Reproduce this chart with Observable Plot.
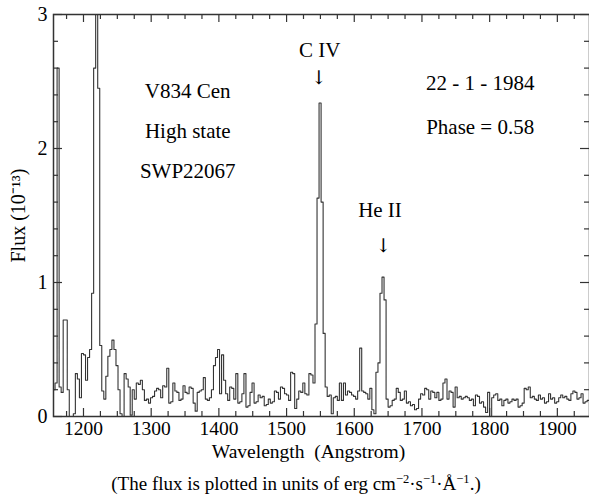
<!DOCTYPE html>
<html><head><meta charset="utf-8">
<script src="https://cdn.jsdelivr.net/npm/d3@7"></script>
<script src="https://cdn.jsdelivr.net/npm/@observablehq/plot@0.6"></script>
<style>
body{margin:0;background:#fff;}
#wrap{position:relative;width:589px;height:496px;font-family:"Liberation Serif","Times New Roman",serif;color:#000;}
#cap{position:absolute;left:0;top:474px;width:592px;text-align:center;font-size:19px;line-height:20px;white-space:nowrap;}
#cap sup{font-size:12.5px;vertical-align:baseline;position:relative;top:-0.6em;}
</style></head>
<body><div id="wrap"><div id="chart"></div><div id="cap">(The flux is plotted in units of erg cm<sup>−2</sup>·s<sup>−1</sup>·Å<sup>−1</sup>.)</div></div>
<script>
// Spectrum: flux (10^-13 erg cm^-2 s^-1 A^-1) in 3 Å bins starting at 1155 Å
const lambdaStart = 1155;
const lambdaStep = 3;
const flux = [
0.2,0.25,2.6,0.22,0.18,0.72,0.72,0.2,0.0,0.0,
0.02,0.32,0.28,0.14,0.47,0.46,0.27,0.44,0.5,0.92,
2.6,3.6,2.45,0.53,0.19,0.13,0.3,0.45,0.5,0.57,
0.5,0.38,0.2,0.02,0.0,0.32,0.28,0.22,0.01,0.2,
0.13,0.25,0.24,0.27,0.2,0.12,0.13,0.1,0.14,0.15,
0.19,0.21,0.2,0.14,0.23,0.22,0.36,0.1,0.11,0.25,
0.19,0.18,0.12,0.13,0.23,0.18,0.17,0.22,0.21,0.1,
0.04,0.18,0.19,0.2,0.29,0.13,0.12,0.14,0.2,0.38,
0.44,0.5,0.17,0.46,0.27,0.17,0.12,0.22,0.21,0.13,
0.32,0.1,0.11,0.17,0.32,0.07,0.08,0.18,0.25,0.1,
0.11,0.16,0.14,0.15,0.08,0.09,0.13,0.1,0.11,0.19,
0.18,0.13,0.22,0.21,0.17,0.16,0.12,0.33,0.32,0.06,
0.13,0.19,0.18,0.25,0.17,0.16,0.32,0.31,0.25,0.69,
1.63,2.34,1.6,0.62,0.22,0.15,0.16,0.02,0.14,0.15,
0.12,0.25,0.12,0.25,0.16,0.19,0.18,0.16,0.15,0.13,
0.19,0.51,0.19,0.18,0.17,0.13,0.21,0.05,0.02,0.33,
0.4,0.92,1.04,0.87,0.13,0.07,0.08,0.12,0.13,0.21,
0.18,0.12,0.13,0.19,0.1,0.11,0.08,0.09,0.05,0.06,
0.13,0.17,0.16,0.21,0.2,0.13,0.19,0.18,0.14,0.18,
0.12,0.13,0.25,0.28,0.13,0.19,0.18,0.07,0.22,0.14,
0.15,0.13,0.14,0.15,0.14,0.12,0.13,0.08,0.16,0.15,
0.1,0.11,0.07,0.03,0.18,0.0,0.14,0.16,0.17,0.12,
0.13,0.08,0.12,0.13,0.1,0.11,0.13,0.12,0.13,0.07,
0.08,0.1,0.21,0.2,0.22,0.14,0.15,0.13,0.12,0.16,
0.13,0.14,0.1,0.11,0.17,0.13,0.14,0.1,0.11,0.14,
0.16,0.14,0.15,0.13,0.12,0.17,0.19,0.18,0.13,0.14,
0.17,0.1,0.11,0.12,0.12
];
const spectrum = flux.map((f, i) => ({wavelength: lambdaStart + i * lambdaStep, flux: f}));

// Axis ticks
const xTickLabels = [1200, 1300, 1400, 1500, 1600, 1700, 1800, 1900];
const xMinorTicks = d3.range(1175, 1950, 25).filter(v => v % 100 !== 0);
const yTickLabels = [0, 1, 2, 3];
const yMinorTicks = d3.range(1, 15).map(k => k / 5).filter(v => Math.abs(v - Math.round(v)) > 1e-9);

// Annotations
const infoLeft = ["V834 Cen", "High state", "SWP22067"];
const infoLeftFlux = [2.43, 2.13, 1.83];
const infoRight = ["22 - 1 - 1984", "Phase = 0.58"];
const infoRightFlux = [2.49, 2.16];
const lineNames = ["C IV", "He II"];
const lineWavelengths = [1549, 1638];
const lineLabelFlux = [2.73, 1.54];
const arrowWavelengths = [1548, 1643];
const arrowFlux = [2.53, 1.27];

const W = 589, H = 462, mL = 53, mR = 0, mT = 14, mB = 46;
const pw = W - mL - mR, ph = H - mT - mB;
const ink = "#333";

const chart = Plot.plot({
  width: W, height: H,
  marginLeft: mL, marginRight: mR, marginTop: mT, marginBottom: mB,
  style: {fontFamily: '"Liberation Serif", "Times New Roman", serif', fontSize: "19px", color: "#000", background: "#fff"},
  x: {domain: [1155.7, 1947.5]},
  y: {domain: [0, 3]},
  marks: [
    Plot.line(spectrum, {x: "wavelength", y: "flux", curve: "step-after", stroke: ink, strokeWidth: 1.1, clip: true}),
    Plot.frame({stroke: ink, strokeWidth: 1.5}),
    Plot.tickX(xTickLabels, {x: d => d, insetTop: ph - 8, stroke: ink, strokeWidth: 1.2}),
    Plot.tickX(xTickLabels, {x: d => d, insetBottom: ph - 8, stroke: ink, strokeWidth: 1.2}),
    Plot.tickX(xMinorTicks, {x: d => d, insetTop: ph - 5, stroke: ink, strokeWidth: 1.2}),
    Plot.tickX(xMinorTicks, {x: d => d, insetBottom: ph - 5, stroke: ink, strokeWidth: 1.2}),
    Plot.tickY(yTickLabels, {y: d => d, insetRight: pw - 9, stroke: ink, strokeWidth: 1.2}),
    Plot.tickY(yTickLabels, {y: d => d, insetLeft: pw - 9, stroke: ink, strokeWidth: 1.2}),
    Plot.tickY(yMinorTicks, {y: d => d, insetRight: pw - 5, stroke: ink, strokeWidth: 1.2}),
    Plot.tickY(yMinorTicks, {y: d => d, insetLeft: pw - 5, stroke: ink, strokeWidth: 1.2}),
    Plot.axisX(xTickLabels, {tickSize: 0, tickPadding: 5, tickFormat: d => String(d), label: null, fontSize: 19.5, fill: "#000"}),
    Plot.axisY(yTickLabels, {tickSize: 0, tickPadding: 6, tickFormat: d => String(d), label: null, fontSize: 20, fill: "#000"}),
    Plot.text(["Wavelength  (Angstrom)"], {frameAnchor: "bottom", lineAnchor: "middle", textAnchor: "middle", dy: 35, dx: -13, fontSize: 19.5, fill: "#000"}),
    Plot.text(["Flux (10⁻¹³)"], {frameAnchor: "left", lineAnchor: "middle", textAnchor: "middle", dx: -35, rotate: -90, fontSize: 20, fill: "#000"}),
    Plot.text(infoLeft, {x: () => 1354, y: (d, i) => infoLeftFlux[i], text: d => d, fontSize: 21, fill: "#000"}),
    Plot.text(infoRight, {x: () => 1786, y: (d, i) => infoRightFlux[i], text: d => d, fontSize: 21, fill: "#000"}),
    Plot.text(lineNames, {x: (d, i) => lineWavelengths[i], y: (d, i) => lineLabelFlux[i], text: d => d, fontSize: 21, fill: "#000"}),
    Plot.text(arrowWavelengths, {x: d => d, y: (d, i) => arrowFlux[i], text: () => "\u2193\uFE0E", fontFamily: '"DejaVu Serif", "DejaVu Sans", serif', fontSize: 19, fill: "#000"})
  ]
});
document.getElementById("chart").appendChild(chart);
</script>
</body></html>
